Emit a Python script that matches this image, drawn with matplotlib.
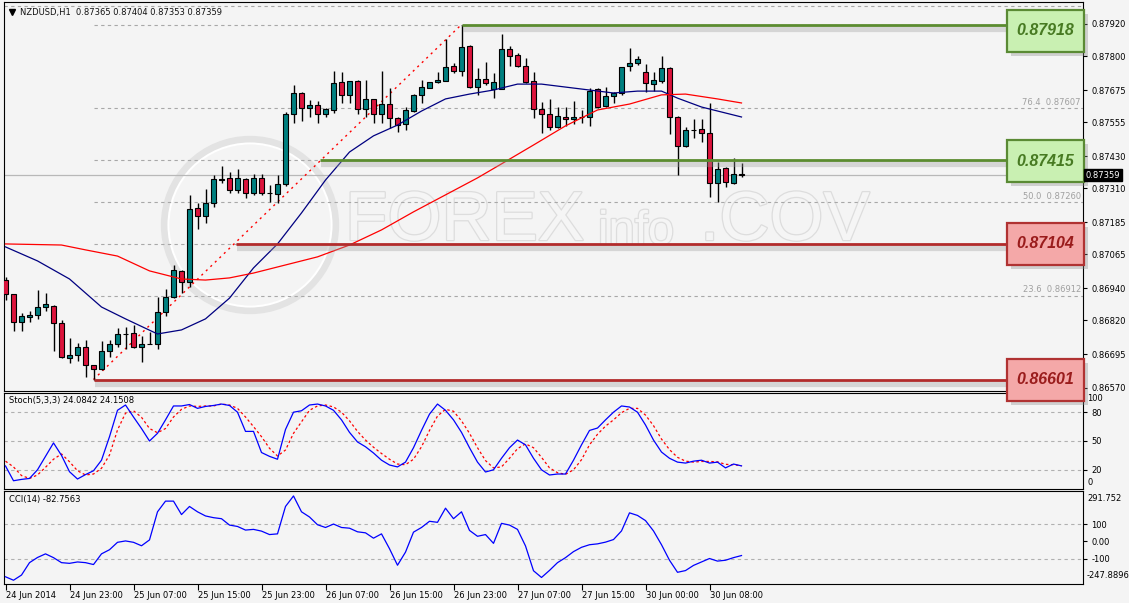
import numpy as np
import matplotlib
matplotlib.use("Agg")
import matplotlib.pyplot as plt
import matplotlib.patheffects as pe
from matplotlib.patches import Rectangle, Ellipse
from matplotlib.transforms import blended_transform_factory, offset_copy

plt.rcParams["font.family"] = ["DejaVu Sans"]

# ---- values ----
symbol = "NZDUSD,H1"
time_label_bars = [0, 8, 16, 24, 32, 40, 48, 56, 64, 72, 80, 88]
time_labels = ["24 Jun 2014", "24 Jun 23:00", "25 Jun 07:00", "25 Jun 15:00",
               "25 Jun 23:00", "26 Jun 07:00", "26 Jun 15:00", "26 Jun 23:00",
               "27 Jun 07:00", "27 Jun 15:00", "30 Jun 00:00", "30 Jun 08:00"]

opens = [0.86970, 0.86918, 0.86814, 0.86833, 0.86840, 0.86870, 0.86874, 0.86811, 0.86681, 0.86692,
         0.86722, 0.86655, 0.86640, 0.86707, 0.86733, 0.86769, 0.86774, 0.86722, 0.86732, 0.86733,
         0.86852, 0.86907, 0.87004, 0.86963, 0.87237, 0.87208, 0.87256, 0.87341, 0.87349, 0.87304,
         0.87345, 0.87293, 0.87349, 0.87293, 0.87289, 0.87326, 0.87586, 0.87664, 0.87608, 0.87619,
         0.87586, 0.87601, 0.87705, 0.87657, 0.87708, 0.87605, 0.87642, 0.87586, 0.87623, 0.87571,
         0.87549, 0.87597, 0.87657, 0.87683, 0.87705, 0.87708, 0.87764, 0.87746, 0.87838, 0.87686,
         0.87716, 0.87679, 0.87679, 0.87827, 0.87805, 0.87764, 0.87708, 0.87605, 0.87586, 0.87538,
         0.87575, 0.87568, 0.87575, 0.87575, 0.87679, 0.87616, 0.87653, 0.87664, 0.87764, 0.87775,
         0.87742, 0.87697, 0.87708, 0.87757, 0.87575, 0.87467, 0.87527, 0.87530, 0.87516, 0.87330,
         0.87386, 0.87330, 0.87365]
highs = [0.86981, 0.86920, 0.86848, 0.86855, 0.86933, 0.86922, 0.86876, 0.86822, 0.86755, 0.86736,
         0.86748, 0.86656, 0.86744, 0.86748, 0.86792, 0.86796, 0.86803, 0.86762, 0.86777, 0.86907,
         0.86937, 0.87026, 0.87007, 0.87286, 0.87256, 0.87308, 0.87360, 0.87393, 0.87371, 0.87382,
         0.87349, 0.87363, 0.87363, 0.87323, 0.87360, 0.87594, 0.87694, 0.87668, 0.87638, 0.87634,
         0.87608, 0.87746, 0.87742, 0.87710, 0.87712, 0.87712, 0.87643, 0.87746, 0.87683, 0.87575,
         0.87612, 0.87659, 0.87712, 0.87706, 0.87742, 0.87864, 0.87775, 0.87918, 0.87842, 0.87757,
         0.87779, 0.87738, 0.87883, 0.87838, 0.87812, 0.87794, 0.87742, 0.87631, 0.87642, 0.87612,
         0.87612, 0.87634, 0.87601, 0.87683, 0.87683, 0.87686, 0.87668, 0.87762, 0.87831, 0.87801,
         0.87772, 0.87742, 0.87801, 0.87760, 0.87577, 0.87538, 0.87568, 0.87568, 0.87627, 0.87408,
         0.87389, 0.87423, 0.87404]
lows = [0.86896, 0.86781, 0.86781, 0.86814, 0.86826, 0.86855, 0.86707, 0.86681, 0.86662, 0.86670,
        0.86610, 0.86601, 0.86638, 0.86685, 0.86722, 0.86714, 0.86718, 0.86666, 0.86731, 0.86714,
        0.86837, 0.86903, 0.86922, 0.86944, 0.87159, 0.87182, 0.87241, 0.87330, 0.87293, 0.87293,
        0.87274, 0.87286, 0.87286, 0.87260, 0.87256, 0.87319, 0.87553, 0.87560, 0.87575, 0.87553,
        0.87575, 0.87590, 0.87627, 0.87627, 0.87586, 0.87575, 0.87553, 0.87553, 0.87534, 0.87519,
        0.87527, 0.87594, 0.87627, 0.87682, 0.87701, 0.87707, 0.87738, 0.87727, 0.87683, 0.87657,
        0.87694, 0.87645, 0.87678, 0.87764, 0.87760, 0.87701, 0.87571, 0.87516, 0.87527, 0.87534,
        0.87542, 0.87549, 0.87553, 0.87542, 0.87608, 0.87612, 0.87627, 0.87657, 0.87746, 0.87768,
        0.87668, 0.87671, 0.87701, 0.87512, 0.87360, 0.87464, 0.87497, 0.87482, 0.87278, 0.87260,
        0.87315, 0.87326, 0.87353]
closes = [0.86918, 0.86814, 0.86837, 0.86840, 0.86870, 0.86881, 0.86811, 0.86685, 0.86692, 0.86722,
          0.86655, 0.86640, 0.86707, 0.86733, 0.86770, 0.86771, 0.86722, 0.86733, 0.86734, 0.86852,
          0.86907, 0.87007, 0.86963, 0.87234, 0.87208, 0.87256, 0.87345, 0.87345, 0.87304, 0.87349,
          0.87293, 0.87349, 0.87293, 0.87294, 0.87326, 0.87586, 0.87664, 0.87608, 0.87619, 0.87586,
          0.87605, 0.87701, 0.87657, 0.87708, 0.87605, 0.87642, 0.87586, 0.87623, 0.87571, 0.87545,
          0.87601, 0.87657, 0.87686, 0.87705, 0.87712, 0.87760, 0.87746, 0.87835, 0.87686, 0.87716,
          0.87701, 0.87705, 0.87827, 0.87801, 0.87764, 0.87705, 0.87605, 0.87586, 0.87538, 0.87579,
          0.87568, 0.87575, 0.87576, 0.87671, 0.87612, 0.87653, 0.87664, 0.87760, 0.87775, 0.87790,
          0.87701, 0.87712, 0.87757, 0.87575, 0.87467, 0.87527, 0.87528, 0.87516, 0.87330, 0.87382,
          0.87334, 0.87363, 0.87359]

# moving averages, read at some bars
ma_fast_bars = [0, 4, 8, 12, 15, 19, 22, 25, 28, 31, 34, 37, 40, 43, 46, 49, 52, 55, 58, 61,
                64, 67, 70, 73, 76, 79, 82, 84, 87, 92]
ma_fast = [0.87093, 0.87041, 0.86974, 0.86870, 0.86826, 0.86770, 0.86785, 0.86826, 0.86903, 0.87015,
           0.87104, 0.87219, 0.87341, 0.87445, 0.87505, 0.87545, 0.87597, 0.87642, 0.87660, 0.87675,
           0.87697, 0.87697, 0.87686, 0.87675, 0.87664, 0.87671, 0.87671, 0.87645, 0.87612, 0.87575]
ma_slow_bars = [0, 7, 10, 14, 18, 22, 25, 28, 31, 35, 39, 43, 47, 51, 55, 59, 62, 66, 70, 74,
                78, 82, 85, 89, 92]
ma_slow = [0.87104, 0.87100, 0.87082, 0.87059, 0.87004, 0.86974, 0.86970, 0.86978, 0.86996, 0.87026,
           0.87056, 0.87100, 0.87156, 0.87223, 0.87286, 0.87349, 0.87401, 0.87471, 0.87542, 0.87601,
           0.87623, 0.87657, 0.87660, 0.87642, 0.87627]

price_ticks = [0.87920, 0.87800, 0.87675, 0.87555, 0.87430, 0.87310,
               0.87185, 0.87065, 0.86940, 0.86820, 0.86695, 0.86570]

# fibonacci from bar 11 low to bar 57 high
fib_start_bar, fib_end_bar = 11, 57
fib_low, fib_high = 0.86601, 0.87918
fib_all = [100.0, 76.4, 61.8, 50.0, 38.2, 23.6, 0.0]
fib_labelled = [76.4, 50.0, 23.6]
top_dashed = 0.87987

levels = [0.87918, 0.87415, 0.87104, 0.86601]
level_start = [57, 39.3, 28.8, 11]
level_kind = ["green", "green", "red", "red"]

stoch_main = [24, 8.6, 10, 11, 20, 34, 48, 35, 18, 10.4,
              15, 19, 30, 54.5, 82, 87.5, 75, 63, 50, 58,
              72, 86.5, 86.5, 88, 84, 86, 87, 88.5, 87, 80,
              60, 60, 38, 34, 31, 62, 80, 81.5, 87.5, 88.5,
              86.5, 82, 72, 59, 49, 44, 37.5, 30, 25, 23,
              28, 43, 61, 78, 88.5, 82, 72, 59, 43, 28,
              17.7, 20, 32, 43, 51, 46, 32, 20, 14.6, 15.6,
              15.6, 30, 46, 61, 63.5, 72, 80, 86.5, 85.4, 80,
              66.7, 51, 38.5, 32, 28, 27, 29, 30, 27, 28,
              22, 26, 24.0842]
stoch_signal = [29, 23, 14, 11, 14.6, 22.6, 31, 36.5, 28.4, 19,
                14.6, 15.6, 21.6, 35.4, 61.5, 79, 81.5, 74.7, 63, 58.6,
                63, 75, 83, 86.5, 86, 86.5, 86.5, 88.5, 87.5, 84,
                75, 65, 54.5, 42.4, 34.4, 40.6, 58, 70, 82, 86.5,
                87.5, 85.5, 80, 71, 60, 51, 43.5, 37, 31, 26,
                25.3, 31, 44, 61, 76, 83, 81, 71, 58, 43,
                29.6, 22, 23, 32, 42, 47, 43, 33, 22, 17,
                15.3, 20, 30.5, 46, 57, 65.5, 72, 79.5, 84, 84,
                77, 66, 52, 41, 33, 29, 28, 28.7, 28.7, 28.3,
                25.7, 25.3, 24.1508]
cci = [-206, -226, -196, -124, -94, -73, -95, -124, -128, -120,
       -124, -135, -73, -49, -6, 2, -6, -26, 8, 171,
       233, 233, 155, 202, 171, 147, 137, 131, 94, 86,
       65, 69, 59, 39, 43, 202, 263, 171, 141, 96,
       80, 100, 80, 76, 55, 49, 18, 43, -43, -139,
       -63, 53, 80, 116, 110, 192, 131, 171, 63, 29,
       39, -12, 104, 94, 69, -27, -171, -210, -169, -124,
       -95, -60, -35, -20, -15, -5, 10, 60, 165, 150,
       120, 60, -20, -110, -180, -170, -140, -120, -100, -115,
       -110, -95, -82.7563]
cci_top, cci_bottom = 291.752, -247.8896

# ---- layout (pixels) ----
W, H = 1129, 603
L, R = 4, 1083
MAIN = (2, 391)
STOCH = (393, 489)
CCIP = (491, 584)
BG = "#f4f4f4"
YMIN, YMAX = 0.865584, 0.880016
GRAY_DASH = (0, (3, 3))

fig = plt.figure(figsize=(W / 100, H / 100), dpi=100, facecolor=BG)


def rect(top, bottom):
    return [L / W, 1 - bottom / H, (R - L) / W, (bottom - top) / H]


ax = fig.add_axes(rect(*MAIN), facecolor=BG)
axs = fig.add_axes(rect(*STOCH), facecolor=BG)
axc = fig.add_axes(rect(*CCIP), facecolor=BG)
ax.set_zorder(3)

n = len(closes)
bars = np.arange(n)
XMIN = -1.5 / 8
XMAX = XMIN + (R - L) / 8
for a in (ax, axs, axc):
    a.set_xlim(XMIN, XMAX)
    for s in a.spines.values():
        s.set_linewidth(0.8)
        s.set_color("black")
    a.yaxis.tick_right()
    a.tick_params(axis="y", labelsize=6, length=3, pad=3, direction="out", colors="black")
ax.set_xticks([])
axs.set_xticks([])


def pax(px, py):
    return ((px - L) / (R - L), (MAIN[1] - py) / (MAIN[1] - MAIN[0]))


# ---- main price panel ----
ax.set_ylim(YMIN, YMAX)
ax.set_yticks(price_ticks)
ax.set_yticklabels([f"{v:.5f}" for v in price_ticks])
ppx = (YMAX - YMIN) / (MAIN[1] - MAIN[0])
blend = blended_transform_factory(ax.transAxes, ax.transData)

# watermark (faint, embossed look)
wm = dict(transform=ax.transAxes, color="#f5f5f5", zorder=0.5,
          path_effects=[pe.Stroke(linewidth=1.8, foreground="#dddddd"), pe.Normal()])
ring_c = pax(250, 225)
ax.add_patch(Ellipse(ring_c, 170 / (R - L), 170 / (MAIN[1] - MAIN[0]), transform=ax.transAxes,
                     fill=False, ec="#e3e3e3", lw=6, zorder=0.4))
ax.add_patch(Ellipse(ring_c, 163 / (R - L), 163 / (MAIN[1] - MAIN[0]), transform=ax.transAxes,
                     fill=False, ec="#ffffff", lw=1.5, zorder=0.45))
ax.text(*pax(345, 222), "FOREX", fontsize=50, family="Liberation Sans", va="center", ha="left", **wm)
ax.text(*pax(598, 232), "info", fontsize=34, family="Liberation Sans", va="center", ha="left", **wm)
ax.text(*pax(700, 222), ".COV", fontsize=50, family="Liberation Sans", va="center", ha="left", **wm)

# fibonacci levels and diagonal
fib_range = fib_high - fib_low
for pct in fib_all:
    ax.hlines(fib_low + pct / 100 * fib_range, fib_start_bar, XMAX, colors="#a8a8a8",
              linestyles=GRAY_DASH, lw=0.8, zorder=1)
for pct in fib_labelled:
    lv = fib_low + pct / 100 * fib_range
    ax.text(1 - 2 / (R - L), lv + 1.5 * ppx, f"{pct:.1f}  {lv:.5f}", transform=blend,
            fontsize=6, color="#a0a0a0", ha="right", va="bottom", zorder=1)
ax.axhline(top_dashed, color="#a8a8a8", ls=GRAY_DASH, lw=0.8, zorder=1)
ax.plot([fib_start_bar, fib_end_bar], [fib_low, fib_high], color="red",
        ls=(0, (1.5, 3)), lw=1, zorder=2)

# bid line
ax.axhline(closes[-1], color="#b8b8b8", lw=0.9, zorder=1)

# candles
o, h, lo, c = map(np.array, (opens, highs, lows, closes))
up = c >= o
ax.vlines(bars, lo, h, color="black", lw=1, zorder=3)
body_lo = np.minimum(o, c)
body_h = np.maximum(np.abs(c - o), 0.000008)
ax.bar(bars[up], body_h[up], bottom=body_lo[up], width=0.62, color="#008080",
       edgecolor="black", lw=0.8, zorder=4)
ax.bar(bars[~up], body_h[~up], bottom=body_lo[~up], width=0.62, color="#dc143c",
       edgecolor="black", lw=0.8, zorder=4)

# moving averages
ax.plot(ma_fast_bars, ma_fast, color="#000080", lw=0.9, zorder=5)
ax.plot(ma_slow_bars, ma_slow, color="#ff0000", lw=0.9, zorder=5)

# level lines with boxes
styles = {"green": dict(line="#5b8c2f", face="#c9f0b2", edge="#5a8a34", text="#477a22"),
          "red": dict(line="#b22b2b", face="#f4a8a8", edge="#b03232", text="#9a1c1c")}
box_left = (1007 - L) / (R - L)
box_right = (1084 - L) / (R - L)
box_box_w = box_right - box_left
box_h = 42 * ppx
box_shift = [6, 1, 0, 0]
line_end = XMIN + (1006 - L) / 8
shadow_tr = offset_copy(ax.transData, fig=fig, x=1, y=-4, units="dots")
for lv, start, kind, sh in zip(levels, level_start, level_kind, box_shift):
    st = styles[kind]
    ax.plot([start, line_end], [lv, lv], color="#9c9c9c", lw=4.5, alpha=0.35,
            transform=shadow_tr, solid_capstyle="butt", zorder=5.5)
    ax.plot([start, line_end], [lv, lv], color=st["line"], lw=2.0,
            solid_capstyle="butt", zorder=6)
    yc = lv - sh * ppx
    ax.add_patch(Rectangle((box_left + 4 / (R - L), yc - box_h / 2 - 4 * ppx), box_box_w, box_h,
                           transform=blend, fc="#8c8c8c", ec="none", alpha=0.35,
                           clip_on=False, zorder=8))
    ax.add_patch(Rectangle((box_left, yc - box_h / 2), box_box_w, box_h, transform=blend,
                           fc=st["face"], ec=st["edge"], lw=1.6, clip_on=False, zorder=9))
    ax.text(box_left + box_box_w / 2, yc, f"{lv:.5f}", transform=blend, ha="center", va="center",
            fontsize=11.5, family="Liberation Sans", fontweight="bold", fontstyle="italic",
            color=st["text"], zorder=10, clip_on=False)

# current price tag
ax.text(1 + 3 / (R - L), closes[-1], f"{closes[-1]:.5f}", transform=blend, fontsize=6,
        color="white", ha="left", va="center", zorder=12, clip_on=False,
        bbox=dict(boxstyle="square,pad=0.2", fc="black", ec="black"))

# header
ax.plot(*pax(12, 12), marker="v", ms=4, color="black", transform=ax.transAxes, zorder=12)
ax.text(*pax(20, 12), f"{symbol}  {opens[-1]:.5f} {highs[-1]:.5f} {lows[-1]:.5f} {closes[-1]:.5f}",
        transform=ax.transAxes, fontsize=6, ha="left", va="center", color="#111111", zorder=12)

# ---- stochastic ----
axs.set_ylim(0, 100)
for lv in (20, 50, 80):
    axs.axhline(lv, color="#b0b0b0", ls=GRAY_DASH, lw=0.8, zorder=1)
axs.plot(bars, stoch_main, color="#0000ff", lw=0.9, zorder=3)
axs.plot(bars, stoch_signal, color="#ff0000", ls=(0, (2, 2)), lw=0.9, zorder=2)
axs.set_yticks([20, 50, 80])
axs.set_yticklabels(["20", "50", "80"])
axs.text(1 + 4 / (R - L), 0.985, "100", transform=axs.transAxes, fontsize=6, va="top", ha="left")
axs.text(1 + 4 / (R - L), 0.02, "0", transform=axs.transAxes, fontsize=6, va="bottom", ha="left")
axs.text(5 / (R - L), 0.965, f"Stoch(5,3,3) {stoch_main[-1]} {stoch_signal[-1]}",
         transform=axs.transAxes, fontsize=6, va="top", ha="left")

# ---- CCI ----
axc.set_ylim(cci_bottom, cci_top)
for lv in (100, -100):
    axc.axhline(lv, color="#b0b0b0", ls=GRAY_DASH, lw=0.8, zorder=1)
axc.plot(bars, cci, color="#0000ff", lw=0.9, zorder=3)
axc.set_yticks([100, 0, -100])
axc.set_yticklabels(["100", "0.00", "-100"])
axc.text(1 + 4 / (R - L), 0.97, f"{cci_top}", transform=axc.transAxes, fontsize=6, va="top", ha="left")
axc.text(1 + 4 / (R - L), 0.04, f"{cci_bottom}", transform=axc.transAxes, fontsize=6,
         va="bottom", ha="left", clip_on=False)
axc.text(5 / (R - L), 0.955, f"CCI(14) {cci[-1]}", transform=axc.transAxes, fontsize=6,
         va="top", ha="left")
axc.set_xticks(time_label_bars)
axc.set_xticklabels(time_labels, fontsize=6, ha="left")
axc.tick_params(axis="x", length=4, pad=1, direction="out")

fig.savefig("out.png", dpi=100, facecolor=BG)
